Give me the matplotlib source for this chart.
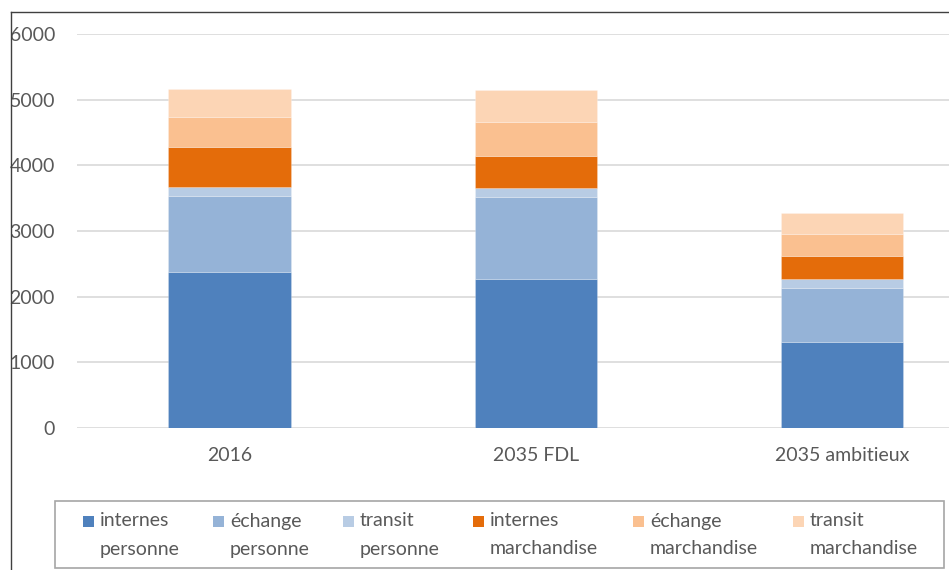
import numpy as np
import matplotlib
matplotlib.use('Agg')
from matplotlib import pyplot
from matplotlib.lines import Line2D
from matplotlib.patches import Rectangle

# scenarios on the x axis
scenarios = ['2016', '2035 FDL', '2035 ambitieux']

# flows by category, one list per stacked series
internes_personne = [2370, 2262, 1317]
echange_personne = [1168, 1255, 808]
transit_personne = [137, 132, 137]
internes_marchandise = [605, 493, 355]
echange_marchandise = [453, 513, 331]
transit_marchandise = [436, 488, 320]

series_labels = ['internes\npersonne', 'échange\npersonne', 'transit\npersonne',
                 'internes\nmarchandise', 'échange\nmarchandise', 'transit\nmarchandise']
series_colors = ['#4F81BD', '#95B3D7', '#B8CCE4', '#E46C0A', '#FAC090', '#FCD5B5']

text_color = '#595959'
font_size = 14
pyplot.rcParams['font.family'] = ['Lato', 'DejaVu Sans']

W, H = 949, 570
fig = pyplot.figure(figsize=(W / 100, H / 100), dpi=100)
ax = fig.add_axes([76.5 / W, 142 / H, 918.5 / W, 394 / H])

series = [internes_personne, echange_personne, transit_personne,
          internes_marchandise, echange_marchandise, transit_marchandise]
indX = np.arange(len(scenarios))
bottom = np.zeros(len(scenarios))
for values, label, color in zip(series, series_labels, series_colors):
    ax.bar(indX, values, width=0.40, bottom=bottom, color=color, label=label,
           zorder=3, edgecolor=(1, 1, 1, 0.25), linewidth=0.6)
    bottom = bottom + np.array(values)

ax.set_xlim(-0.5, 2.5)
ax.set_ylim(0, 6000)
ax.set_yticks(np.arange(0, 6001, 1000))
ax.yaxis.grid(True, color='#D9D9D9', linewidth=1.2, zorder=0)
ax.set_axisbelow(True)
for spine in ax.spines.values():
    spine.set_visible(False)
ax.tick_params(axis='both', length=0, colors=text_color, labelsize=font_size)
ax.tick_params(axis='y', pad=15.5)
ax.tick_params(axis='x', pad=14)
ax.set_xticks(indX)
ax.set_xticklabels(scenarios)

# legend drawn by hand: square on the first line, label wrapped under it
fig.add_artist(Rectangle((55 / W, 1 - 568 / H), 889 / W, 67.5 / H,
                         transform=fig.transFigure, facecolor='white',
                         edgecolor='#A6A6A6', linewidth=1.2))
square_left = [83, 213, 343, 473, 633, 793]
for x0, label, color in zip(square_left, series_labels, series_colors):
    fig.add_artist(Rectangle((x0 / W, 1 - 527 / H), 11 / W, 11 / H,
                             transform=fig.transFigure, facecolor=color,
                             edgecolor='none'))
    first, second = label.split('\n')
    fig.text((x0 + 17) / W, 1 - 521 / H, first, color=text_color,
             fontsize=font_size, va='center', ha='left')
    fig.text((x0 + 17) / W, 1 - 549 / H, second, color=text_color,
             fontsize=font_size, va='center', ha='left')

# chart area border (top and left edges)
fig.add_artist(Line2D([10.5 / W, 10.5 / W], [0, 1 - 12 / H],
                      transform=fig.transFigure, color='#404040', linewidth=1))
fig.add_artist(Line2D([10.5 / W, 1], [1 - 12 / H, 1 - 12 / H],
                      transform=fig.transFigure, color='#404040', linewidth=1))

pyplot.savefig('out.png', dpi=100)
